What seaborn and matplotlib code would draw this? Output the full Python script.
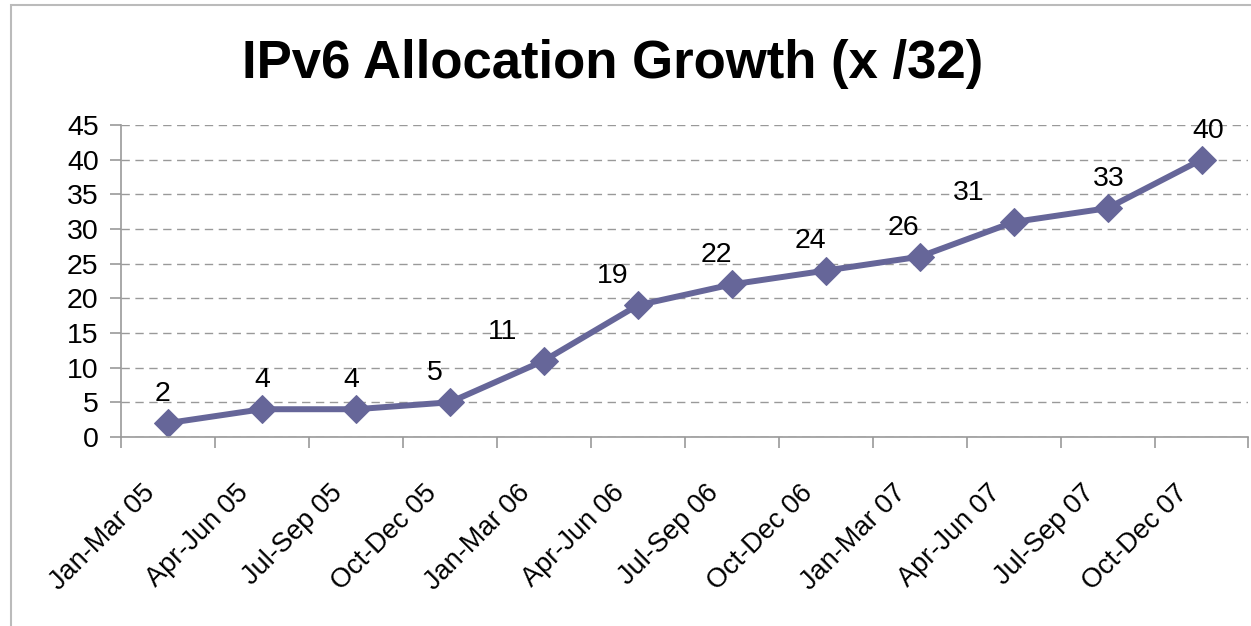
import matplotlib
matplotlib.use("Agg")
import matplotlib.pyplot as plt
import seaborn as sns
import pandas as pd

quarters = ["Jan-Mar 05", "Apr-Jun 05", "Jul-Sep 05", "Oct-Dec 05",
            "Jan-Mar 06", "Apr-Jun 06", "Jul-Sep 06", "Oct-Dec 06",
            "Jan-Mar 07", "Apr-Jun 07", "Jul-Sep 07", "Oct-Dec 07"]
allocations = [2, 4, 4, 5, 11, 19, 22, 24, 26, 31, 33, 40]

# label offsets in points (style only)
label_dx = [-4, 0, -3, -11, -30, -18, -11, -11, -12, -32, 1, 5]
label_dy = 21

sns.set_style("white")
plt.rcParams['font.family'] = ['Liberation Sans', 'DejaVu Sans']
plt.rcParams['text.color'] = 'black'
plt.rcParams['xtick.color'] = '#999999'
plt.rcParams['ytick.color'] = '#999999'
plt.rcParams['ytick.labelcolor'] = 'black'

line_color = '#666699'

df = pd.DataFrame({'quarter': quarters, 'count': allocations})

fig = plt.figure(figsize=(12.51, 6.26), dpi=100)
ax = fig.add_axes([0.0967, 0.302, 0.9013, 0.4983])

sns.lineplot(data=df, x='quarter', y='count', ax=ax, color=line_color,
             linewidth=4.3, marker='D', markersize=14, markeredgecolor=line_color,
             sort=False)

for i, v in enumerate(allocations):
    ax.annotate(str(v), (i, v), xytext=(label_dx[i], label_dy),
                textcoords='offset points', ha='center', va='center',
                fontsize=20.5, color='black')

ax.set_xlim(-0.5, len(quarters) - 0.5)
ax.set_ylim(0, 45)
ax.set_yticks(range(0, 46, 5))
ax.set_xticks([i - 0.5 for i in range(len(quarters) + 1)])
ax.set_xticklabels([])
ax.tick_params(axis='x', length=8, width=1.2, direction='out', bottom=True)
ax.tick_params(axis='y', length=8, width=1.2, direction='out', labelsize=20.5, pad=8, left=True)
ax.set_xlabel('')
ax.set_ylabel('')

# rotated category labels, anchored under each category
for i, q in enumerate(quarters):
    ax.annotate(q, (i, 0), xycoords=('data', 'axes fraction'),
                xytext=(-19, -31), textcoords='offset points',
                rotation=45, rotation_mode='anchor', ha='right', va='top',
                fontsize=19.5, color='black', annotation_clip=False)

ax.grid(axis='y', linestyle=(0, (6, 4)), color='#999999', linewidth=1)
ax.set_axisbelow(True)
for s in ['top', 'right']:
    ax.spines[s].set_visible(False)
for s in ['left', 'bottom']:
    ax.spines[s].set_color('#999999')
    ax.spines[s].set_linewidth(1.2)

fig.text(0.49, 0.898, 'IPv6 Allocation Growth (x /32)', ha='center', va='center',
         fontsize=38, fontweight='bold', color='black')

# outer chart border
border = plt.Rectangle((11 / 1251, -0.01), 1.1, 1 - 5 / 626 + 0.01, transform=fig.transFigure,
                       fill=False, edgecolor='#bbbbbb', linewidth=1.5)
fig.add_artist(border)

fig.savefig('out.png', dpi=100)
